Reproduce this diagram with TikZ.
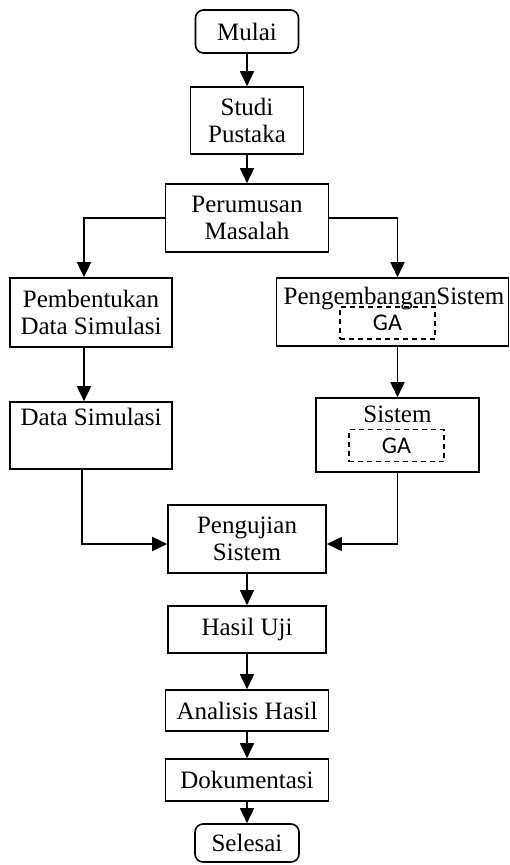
\documentclass[tikz,border=0pt]{standalone}
\usepackage{fontspec}
\setmainfont{Liberation Serif}
\newfontfamily\gafont{Carlito}
\usetikzlibrary{positioning,arrows.meta}

\begin{document}
\begin{tikzpicture}[x=1pt, y=-1pt, line width=1.6pt,
    every node/.style={font=\fontsize{25}{27}\selectfont, align=center, inner sep=0pt},
    proses/.style={draw, rectangle},
    terminal/.style={draw, rectangle, rounded corners=8pt},
    gabox/.style={draw, line width=1.3pt, dash pattern=on 5pt off 4pt, font=\gafont\fontsize{24}{26}\selectfont, minimum width=95pt, minimum height=32pt},
    arr/.style={-{Triangle[length=15pt,width=14pt]}}]
    \useasboundingbox (0,0) rectangle (510,865);
    \node[terminal, minimum width=103pt, minimum height=43pt] (mulai) at (247,31.5) {Mulai};
    \node[proses, minimum width=113pt, minimum height=67pt] (studi) at (247,120.5) {Studi\\Pustaka};
    \node[proses, minimum width=163pt, minimum height=68pt] (rumus) at (247,218) {Perumusan\\Masalah};
    \node[proses, minimum width=162pt, minimum height=69pt] (bentuk) at (91,312.5) {Pembentukan\\Data Simulasi};
    \node[proses, minimum width=232pt, minimum height=68pt] (kembang) at (392.5,312) {};
    \node[anchor=base] (kembangt) at (394,304) {PengembanganSistem};
    \node[gabox] (ga1) at (387.5,323) {GA};
    \node[proses, minimum width=162pt, minimum height=67pt] (datasim) at (91,435.5) {};
    \node[anchor=base] (datasimt) at (91,425) {Data Simulasi};
    \node[proses, minimum width=163pt, minimum height=74pt] (sistem) at (397.5,435) {};
    \node[anchor=base] (sistemt) at (397.5,422.5) {Sistem};
    \node[gabox] (ga2) at (396.5,445.5) {GA};
    \node[proses, minimum width=158pt, minimum height=68pt] (uji) at (247,539) {Pengujian\\Sistem};
    \node[proses, minimum width=158pt, minimum height=47pt] (hasil) at (247,629.5) {Hasil Uji};
    \node[proses, minimum width=163pt, minimum height=41pt] (analisis) at (247,710.5) {Analisis Hasil};
    \node[proses, minimum width=163pt, minimum height=42pt] (dok) at (247,780) {Dokumentasi};
    \node[terminal, minimum width=104pt, minimum height=38pt] (selesai) at (247,843) {Selesai};
    % alur utama
    \draw[arr] (mulai) -- (studi);
    \draw[arr] (studi) -- (rumus);
    \draw[arr] (rumus.west) -| ([xshift=-7pt]bentuk.north);
    \draw[arr] (rumus.east) -| ([xshift=5pt]kembang.north);
    \draw[arr] ([xshift=-7pt]bentuk.south) -- ([xshift=-7pt]datasim.north);
    \draw[arr] ([xshift=5pt]kembang.south) -- (sistem.north);
    \draw[arr] ([xshift=-9pt]datasim.south) |- ([yshift=-5pt]uji.west);
    \draw[arr] (sistem.south) |- ([yshift=-5pt]uji.east);
    \draw[arr] (uji) -- (hasil);
    \draw[arr] (hasil) -- (analisis);
    \draw[arr] (analisis) -- (dok);
    \draw[arr] (dok) -- (selesai);
\end{tikzpicture}
\end{document}
